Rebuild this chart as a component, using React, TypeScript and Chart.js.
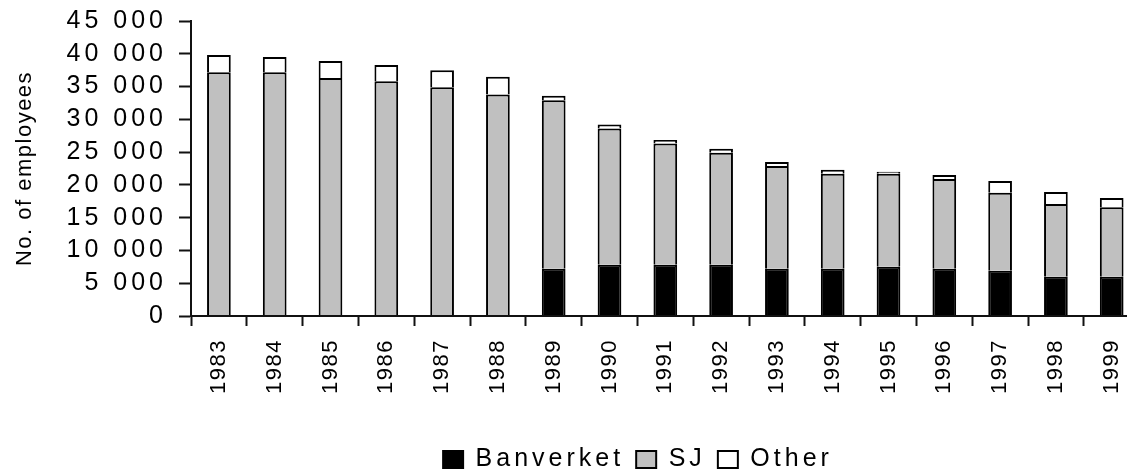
import React, { useEffect, useRef } from 'react';
import { Chart, registerables } from 'chart.js';

Chart.register(...registerables);

const years = ['1983', '1984', '1985', '1986', '1987', '1988', '1989', '1990', '1991', '1992', '1993', '1994', '1995', '1996', '1997', '1998', '1999'];
const banverket = [null, null, null, null, null, null, 7200, 7800, 7800, 7800, 7200, 7200, 7500, 7200, 6900, 6000, 6000];
const sj = [37200, 37200, 36300, 35800, 34900, 33800, 25700, 20800, 18500, 17100, 15700, 14500, 14200, 13700, 11900, 11100, 10600];
const other = [2600, 2300, 2600, 2500, 2600, 2700, 700, 600, 550, 600, 600, 600, 300, 600, 1800, 1800, 1400];
const seriesNames = ['Banverket', 'SJ', 'Other'];
const seriesColors = ['#000000', '#c0c0c0', '#ffffff'];
const yTickLabels = ['0', '5 000', '10 000', '15 000', '20 000', '25 000', '30 000', '35 000', '40 000', '45 000'];
const yTitle = 'No. of employees';

const FONT = 'Liberation Sans, Arial, sans-serif';

export default function App() {
  const ref = useRef<HTMLCanvasElement>(null);

  useEffect(() => {
    if (!ref.current) return;
    const spacingPlugin = {
      id: 'textSpacing',
      beforeUpdate(c: any) { (c.ctx as any).letterSpacing = '4px'; },
      beforeDraw(c: any) { (c.ctx as any).letterSpacing = '4px'; },
      afterDatasetsDraw(c: any) { (c.ctx as any).letterSpacing = '1.5px'; },
      afterDraw(c: any) { (c.ctx as any).letterSpacing = '0px'; },
      afterLayout(c: any) {
        const lg = c.legend;
        if (lg) {
          const d = 638 - (lg.left + lg.right) / 2;
          lg.left += d;
          lg.right += d;
        }
      },
    };
    const values = [banverket, sj, other];
    const chart = new Chart(ref.current, {
      type: 'bar',
      data: {
        labels: years,
        datasets: seriesNames.map((name, i) => ({
          label: name,
          data: values[i] as any,
          backgroundColor: seriesColors[i],
          borderColor: '#000000',
          borderWidth: 2,
          barPercentage: 0.425,
          categoryPercentage: 1,
        })),
      },
      options: {
        animation: false,
        responsive: true,
        maintainAspectRatio: false,
        layout: { padding: { top: 21, left: 0, right: 20.4, bottom: 0 } },
        plugins: {
          tooltip: { enabled: false },
          legend: {
            position: 'bottom',
            labels: {
              boxWidth: 20,
              boxHeight: 17,
              padding: 12,
              color: '#000',
              font: { family: FONT, size: 25 },
            },
          },
        },
        scales: {
          x: {
            stacked: true,
            afterFit: (s: any) => { s.height = 119; },
            grid: {
              display: true,
              drawOnChartArea: false,
              drawTicks: true,
              tickLength: 10,
              tickWidth: 2,
              tickColor: '#111',
              offset: true,
            },
            border: { display: true, color: '#111', width: 2, z: 1 },
            ticks: {
              z: 1,
              autoSkip: false,
              minRotation: 90,
              maxRotation: 90,
              padding: 13,
              color: '#000',
              font: { family: FONT, size: 22 },
            },
          },
          y: {
            stacked: true,
            min: 0,
            max: 45000,
            afterFit: (s: any) => { s.width = 191; },
            grid: {
              z: 1,
              display: true,
              drawOnChartArea: false,
              drawTicks: true,
              tickLength: 12,
              tickWidth: 2,
              tickColor: '#111',
            },
            border: { display: true, color: '#111', width: 2, z: 1 },
            ticks: {
              autoSkip: false,
              stepSize: 5000,
              padding: 12,
              color: '#000',
              font: { family: FONT, size: 25, lineHeight: 0.6 },
              callback: (v: any) => yTickLabels[Math.round(Number(v) / 5000)],
            },
            title: {
              display: true,
              text: yTitle,
              color: '#000',
              padding: { top: 12, bottom: 0 },
              font: { family: FONT, size: 22 },
            },
          },
        },
      },
      plugins: [spacingPlugin as any],
    });
    return () => chart.destroy();
  }, []);

  return (
    <div style={{ position: 'fixed', left: 0, top: 0, width: 1127, height: 470, overflow: 'hidden', background: '#fff' }}>
      <div style={{ position: 'relative', width: 1160, height: 482 }}>
        <canvas ref={ref} style={{ display: 'block' }} />
      </div>
    </div>
  );
}
